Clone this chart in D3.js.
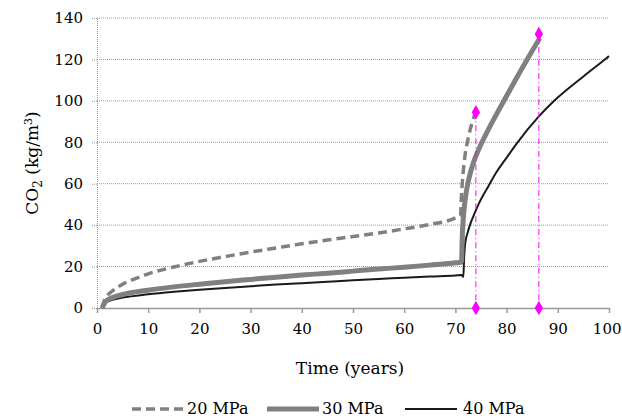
<!DOCTYPE html>
<html>
  <head>
    <meta charset="utf-8">
    <title>CO2 vs time</title>
    <script src="https://cdn.jsdelivr.net/npm/d3@7"></script>
    <style>
      body { margin: 0; background: #fff; }
    </style>
  </head>
  <body>
    <script>
      // values: [time (years), CO2 (kg/m3)]
      var mpa20 = [[1,0],[1.4,3.5],[2,6],[3,8.2],[5,11.5],[7.5,14.2],[10,16.5],[15,19.8],[20,22.5],[25,24.8],
        [30,27],[35,29],[40,31],[45,32.8],[50,34.5],[55,36.2],[60,38.2],[65,40.3],[70,43.5],[71,44.8],
        [71.2,55],[71.5,65],[71.9,74],[72.5,82],[73.2,89],[74,94.5]];
      var mpa30 = [[1,0],[1.5,2.5],[2,3.8],[3,5],[5,6.5],[10,8.6],[15,10.2],[20,11.5],[25,12.7],[30,13.8],
        [35,14.9],[40,15.9],[45,16.8],[50,17.8],[55,18.8],[60,19.7],[65,20.7],[70,21.8],[71.2,22.2],
        [71.35,35],[71.6,45],[72,54],[72.6,62],[73.5,70],[74.8,78],[76.3,85.5],[77.8,92.5],[79.5,100.2],
        [81.6,109.5],[83.9,119.5],[86.5,130.3]];
      var mpa40 = [[1,0],[1.5,2],[2,3],[3,3.9],[5,5],[10,6.6],[15,7.8],[20,8.8],[25,9.7],[30,10.5],[35,11.3],
        [40,12],[45,12.7],[50,13.4],[55,14],[60,14.6],[65,15.2],[70,15.7],[71.2,15.9],[71.55,15],
        [71.7,24],[71.9,31],[72.4,36.5],[72.9,40.5],[73.8,46],[74.6,50.5],[76.5,59],[78,65.5],[79.7,71.5],
        [82,79.5],[86.3,92.5],[89.5,100.5],[95,111.8],[99.2,120],[100,121.6]];
      // magenta markers: [time, top value]
      var markers = [[74, 94.5], [86.3, 132.3]];
      var xTicks = [0,10,20,30,40,50,60,70,80,90,100];
      var yTicks = [0,20,40,60,80,100,120,140];
      var seriesNames = ["20 MPa", "30 MPa", "40 MPa"];

      var font = "'DejaVu Serif', serif";
      var width = 622, height = 418;
      var svg = d3.select("body").append("svg")
        .attr("width", width)
        .attr("height", height)
        .style("font-family", font);

      var x = d3.scaleLinear().domain([0, 100]).range([97, 609]);
      var y = d3.scaleLinear().domain([0, 140]).range([308, 18]);

      // horizontal dotted grid
      svg.append("g").selectAll("line")
        .data(yTicks.slice(1))
        .enter().append("line")
          .attr("x1", x(0)).attr("x2", x(100))
          .attr("y1", function(d) { return y(d); })
          .attr("y2", function(d) { return y(d); })
          .attr("stroke", "#999")
          .attr("stroke-width", 1)
          .attr("stroke-dasharray", "1,1");

      // y axis (dotted, like the grid)
      var yAxis = svg.append("g")
        .attr("transform", "translate(" + x(0) + ",0)")
        .call(d3.axisLeft(y).tickValues(yTicks).tickSize(5).tickPadding(9));
      yAxis.attr("font-family", null);
      yAxis.selectAll("path, line")
        .attr("stroke", "#999")
        .attr("stroke-dasharray", "1,1");
      yAxis.selectAll("text").style("font-size", "15px").style("font-family", font);

      // x axis
      var xAxis = svg.append("g")
        .attr("transform", "translate(0," + y(0) + ")")
        .call(d3.axisBottom(x).tickValues(xTicks).tickSize(5).tickSizeOuter(0).tickPadding(10));
      xAxis.attr("font-family", null);
      xAxis.selectAll("path, line").attr("stroke", "#999").attr("stroke-width", 1.5);
      xAxis.selectAll("text").style("font-size", "15px").style("font-family", font);
      // last label would run off the page edge, pull it back in
      xAxis.selectAll("text").filter(function(d) { return d == 100; })
        .attr("text-anchor", "end").attr("dx", 12);

      var line = d3.line()
        .x(function(d) { return x(d[0]); })
        .y(function(d) { return y(d[1]); })
        .curve(d3.curveMonotoneX);

      svg.append("path").datum(mpa40)
        .attr("d", line).attr("fill", "none")
        .attr("stroke", "#1a1a1a").attr("stroke-width", 2);
      svg.append("path").datum(mpa30)
        .attr("d", line).attr("fill", "none")
        .attr("stroke", "#808080").attr("stroke-width", 5);
      svg.append("path").datum(mpa20)
        .attr("d", line).attr("fill", "none")
        .attr("stroke", "#808080").attr("stroke-width", 3.5)
        .attr("stroke-dasharray", "9,5");

      // magenta dash-dot drop lines with diamonds
      var mk = svg.append("g");
      mk.selectAll("line")
        .data(markers)
        .enter().append("line")
          .attr("x1", function(d) { return x(d[0]); })
          .attr("x2", function(d) { return x(d[0]); })
          .attr("y1", function(d) { return y(d[1]); })
          .attr("y2", y(0))
          .attr("stroke", "#ff00ff")
          .attr("stroke-width", 1)
          .attr("stroke-dasharray", "6,3,1,3");
      var diamond = d3.symbol().type(d3.symbolDiamond).size(60);
      var ends = [];
      markers.forEach(function(d) { ends.push([d[0], d[1]]); ends.push([d[0], 0]); });
      mk.selectAll("path")
        .data(ends)
        .enter().append("path")
          .attr("d", diamond)
          .attr("transform", function(d) { return "translate(" + x(d[0]) + "," + y(d[1]) + ")"; })
          .attr("fill", "#ff00ff");

      // axis titles
      svg.append("text")
        .attr("x", 350).attr("y", 374)
        .attr("text-anchor", "middle")
        .style("font-size", "17px")
        .text("Time (years)");

      var yt = svg.append("text")
        .attr("transform", "translate(38,163) rotate(-90)")
        .attr("text-anchor", "middle")
        .style("font-size", "17px");
      yt.append("tspan").text("CO");
      yt.append("tspan").attr("dy", 4).style("font-size", "12px").text("2");
      yt.append("tspan").attr("dy", -4).text(" (kg/m");
      yt.append("tspan").attr("dy", -6).style("font-size", "11px").text("3");
      yt.append("tspan").attr("dy", 6).text(")");

      // legend
      var legendItems = [
        {name: seriesNames[0], x: 132, stroke: "#808080", width: 3.5, dash: "9,5"},
        {name: seriesNames[1], x: 267, stroke: "#808080", width: 5, dash: null},
        {name: seriesNames[2], x: 405, stroke: "#1a1a1a", width: 2, dash: null}
      ];
      var lg = svg.append("g").selectAll("g")
        .data(legendItems)
        .enter().append("g")
          .attr("transform", function(d) { return "translate(" + d.x + ",409)"; });
      lg.append("line")
        .attr("x1", 0).attr("x2", 52)
        .attr("stroke", function(d) { return d.stroke; })
        .attr("stroke-width", function(d) { return d.width; })
        .attr("stroke-dasharray", function(d) { return d.dash; });
      lg.append("text")
        .attr("x", function(d, i) { return i == 2 ? 58 : 55; })
        .attr("y", 5)
        .style("font-size", "16px")
        .text(function(d) { return d.name; });
    </script>
  </body>
</html>
